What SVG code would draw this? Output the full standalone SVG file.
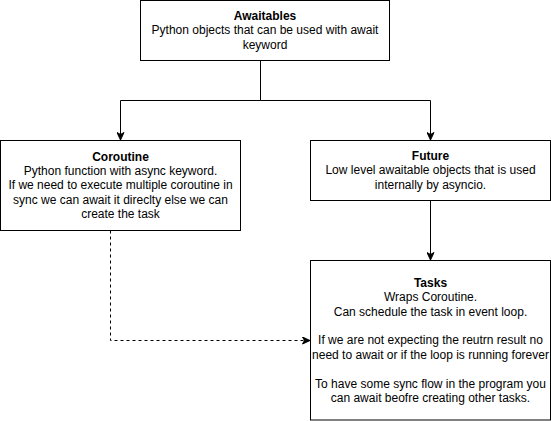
<svg xmlns="http://www.w3.org/2000/svg" width="551" height="421" viewBox="0 0 551 421">
<style>
.box{fill:#ffffff;stroke:#000000;stroke-width:1}
.edge{fill:none;stroke:#000000;stroke-width:1}
.dash{stroke-dasharray:3 3}
text{font-family:"Liberation Sans",Helvetica,Arial,sans-serif;font-size:12px;fill:#000000;text-anchor:middle}
.b{font-weight:bold}
</style>
<defs>
<marker id="arr" viewBox="0 0 8 8" refX="8" refY="4" markerWidth="8" markerHeight="8" markerUnits="userSpaceOnUse" orient="auto">
<path d="M8,4 L0.5,0.5 L2.5,4 L0.5,7.5 Z" fill="#000000" stroke="#000000" stroke-width="1" stroke-linejoin="miter"/>
</marker>
</defs>
<rect width="551" height="421" fill="#ffffff"/>
<g id="connectors">
<path class="edge" d="M260.5,60.5 V100.5 H120.5 V140" marker-end="url(#arr)"/>
<path class="edge" d="M260.5,100.5 H430.5 V140" marker-end="url(#arr)"/>
<path class="edge" d="M430.5,200.5 V260" marker-end="url(#arr)"/>
<path class="edge dash" d="M110.5,230.5 V340.5 H310" marker-end="url(#arr)"/>
</g>
<g id="awaitables">
<rect class="box" x="140.5" y="0.5" width="249" height="60"/>
<text x="265" y="19.9" class="b">Awaitables</text>
<text x="265" y="34.3">Python objects that can be used with await</text>
<text x="265" y="48.7">keyword</text>
</g>
<g id="coroutine">
<rect class="box" x="0.5" y="140.5" width="240" height="90"/>
<text x="120.5" y="160.5" class="b">Coroutine</text>
<text x="120.5" y="174.9">Python function with async keyword.</text>
<text x="120.5" y="189.3">If we need to execute multiple coroutine in</text>
<text x="120.5" y="203.7">sync we can await it direclty else we can</text>
<text x="120.5" y="218.1">create the task</text>
</g>
<g id="future">
<rect class="box" x="310.5" y="140.5" width="240" height="60"/>
<text x="430.5" y="159.9" class="b">Future</text>
<text x="430.5" y="174.3">Low level awaitable objects that is used</text>
<text x="430.5" y="188.7">internally by asyncio.</text>
</g>
<g id="tasks">
<rect class="box" x="310.5" y="260.5" width="240" height="159.5"/>
<text x="430.5" y="286.7" class="b">Tasks</text>
<text x="430.5" y="301.1">Wraps Coroutine.</text>
<text x="430.5" y="315.5">Can schedule the task in event loop.</text>
<text x="430.5" y="344.3">If we are not expecting the reutrn result no</text>
<text x="430.5" y="358.7">need to await or if the loop is running forever</text>
<text x="430.5" y="387.5">To have some sync flow in the program you</text>
<text x="430.5" y="401.9">can await beofre creating other tasks.</text>
</g>
</svg>
